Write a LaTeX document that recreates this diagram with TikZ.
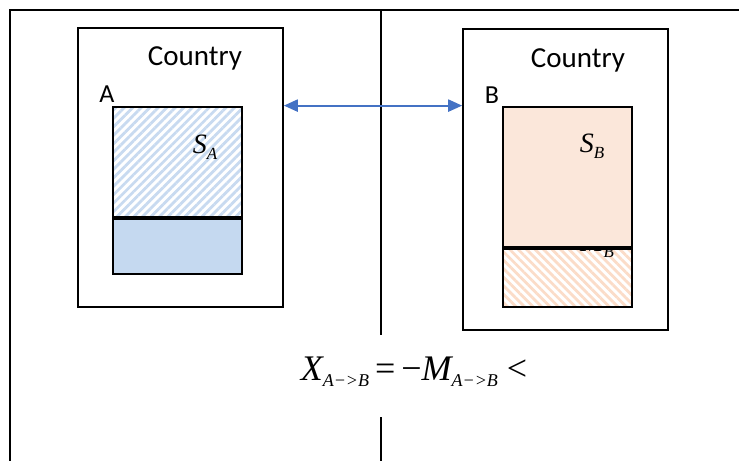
\documentclass[tikz,border=0pt]{standalone}
\usepackage{fontspec}
\setmainfont{Carlito}
\newfontfamily\eqfont{Liberation Serif}
\usetikzlibrary{arrows.meta, positioning, patterns.meta, calc}
\definecolor{tradeblue}{RGB}{68,114,196}
\definecolor{paleblue}{RGB}{197,217,240}
\definecolor{stripeblue}{RGB}{200,218,240}
\definecolor{paleorange}{RGB}{251,231,218}
\definecolor{stripeorange}{RGB}{251,220,200}
\newcommand{\tsub}[2][16]{\raisebox{-6pt}{\fontsize{#1}{#1}\selectfont\itshape #2}}
\tikzset{
  framerule/.style={line width=2pt, black},
  ctrybox/.style={rectangle, draw=black, line width=1.6pt, minimum width=205pt,
                  inner sep=0pt},
  ctrylabel/.style={font=\fontsize{29}{31}\selectfont, inner sep=0pt},
  letterlabel/.style={font=\fontsize{26}{28}\selectfont, inner sep=0pt},
  sharebox/.style={rectangle, draw=black, minimum width=129pt, inner sep=0pt},
  hatchblue/.style={sharebox, line width=2pt,
                    pattern={Lines[angle=45, distance=6pt, line width=2.8pt]},
                    pattern color=stripeblue},
  solidblue/.style={sharebox, line width=2pt, fill=paleblue},
  solidorange/.style={sharebox, line width=1.4pt, fill=paleorange},
  hatchorange/.style={sharebox, line width=1.4pt,
                      pattern={Lines[angle=-45, distance=6pt, line width=2.8pt]},
                      pattern color=stripeorange},
  mathlabel/.style={font=\eqfont\fontsize{28}{30}\selectfont, inner sep=0pt},
  tradearrow/.style={{Triangle[length=14pt, width=12pt]}-{Triangle[length=14pt, width=12pt]},
                     line width=2.2pt, tradeblue},
}
\begin{document}
\begin{tikzpicture}[x=1pt, y=-1pt]
  \useasboundingbox (0,0) rectangle (739,461);
  % table rules
  \draw[framerule] (9,10) -- (739,10);
  \draw[framerule] (10,10) -- (10,461);
  \coordinate (midtop) at (381,10);
  \coordinate (midgap) at (381,335);
  \coordinate (midresume) at (381,417);
  \coordinate (midbot) at (381,461);
  \draw[framerule] (midtop) -- (midgap);
  \draw[framerule] (midresume) -- (midbot);

  % country A
  \node[ctrybox, minimum height=279pt] (ctryA) at (180.5,167.5) {};
  \node[ctrylabel] (nameA) at (195,58) {Country};
  \node[letterlabel] (letA) at (107,94) {A};
  \node[hatchblue, minimum height=110pt] (inA) at (177.5,162) {};
  \node[solidblue, minimum height=55pt, below=0pt of inA] (outA) {};
  \node[mathlabel] (sA) at (205,147) {\itshape S\tsub[17]{A}};

  % country B
  \node[ctrybox, minimum height=301pt] (ctryB) at (565.5,179.5) {};
  \node[ctrylabel] (nameB) at (578,60) {Country};
  \node[letterlabel] (letB) at (492,95) {B};
  \node[hatchorange, minimum height=58pt] (outB) at (567.5,278) {};
  \node[mathlabel, anchor=base west] (mB) at (580,251) {\itshape M\tsub[17]{B}};
  \node[solidorange, minimum height=140pt, above=0pt of outB] (inB) {};
  \node[mathlabel] (sB) at (592,146) {\itshape S\tsub[17]{B}};

  % trade
  \draw[tradearrow] (ctryA.east |- inA.north) -- (ctryB.west |- inA.north);
  \node[font=\eqfont\fontsize{36}{38}\selectfont, inner sep=0pt] (balance) at (414,372)
    {\itshape X\tsub[18]{A\textminus{}>B}\upshape\,=\,\textminus\itshape M\tsub[18]{A\textminus{}>B}\upshape\ <};
\end{tikzpicture}
\end{document}
